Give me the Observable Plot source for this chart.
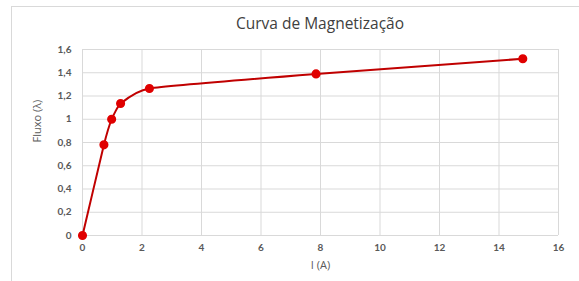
<!DOCTYPE html>
<html>
<head>
<meta charset="utf-8">
<script src="https://cdn.jsdelivr.net/npm/d3@7"></script>
<script src="https://cdn.jsdelivr.net/npm/@observablehq/plot@0.6"></script>
<style>
  html, body { margin: 0; padding: 0; background: #fff; }
  #wrap { position: relative; width: 579px; height: 281px; overflow: hidden; font-family: Lato, "Open Sans", sans-serif; }
  #frame { position: absolute; left: 11px; top: 6px; width: 600px; height: 300px; border-left: 1px solid #d9d9d9; border-top: 1px solid #d9d9d9; }
  #title { position: absolute; left: 82px; width: 476px; top: 12px; text-align: center; font-size: 15.5px; color: #404040; font-family: "Open Sans", Lato, sans-serif; }
  #chart { position: absolute; left: 0; top: 38px; }
</style>
</head>
<body>
<div id="wrap">
  <div id="frame"></div>
  <div id="title">Curva de Magnetização</div>
  <div id="chart"></div>
</div>
<script>
const current = [0, 0.72, 0.98, 1.28, 2.25, 7.85, 14.8];
const flux = [0, 0.78, 1.0, 1.135, 1.265, 1.39, 1.52];
const xTicks = [0, 2, 4, 6, 8, 10, 12, 14, 16];
const yTicks = [0, 0.2, 0.4, 0.6, 0.8, 1, 1.2, 1.4, 1.6];
const xTitle = "I (A)";
const yTitle = "Fluxo (λ)";

const data = current.map((x, i) => ({x, y: flux[i]}));
const fmt = d => String(d).replace(".", ",");

const plot = Plot.plot({
  width: 579,
  height: 243,
  marginTop: 11,
  marginBottom: 46,
  marginLeft: 82,
  marginRight: 21,
  style: {fontFamily: "Lato, 'Open Sans', sans-serif", fontSize: "10px", color: "#404040", background: "transparent"},
  x: {domain: [0, 16], ticks: xTicks, tickFormat: fmt, label: null},
  y: {domain: [0, 1.6], ticks: yTicks, tickFormat: fmt, label: null},
  marks: [
    Plot.gridX(xTicks, {stroke: "#d9d9d9", strokeOpacity: 1, strokeWidth: 1}),
    Plot.gridY(yTicks, {stroke: "#d9d9d9", strokeOpacity: 1, strokeWidth: 1}),
    Plot.axisX({ticks: xTicks, tickFormat: fmt, tickSize: 0, tickPadding: 8, fontWeight: "bold", fill: "#595959"}),
    Plot.axisY({ticks: yTicks, tickFormat: fmt, tickSize: 0, tickPadding: 11, fontWeight: "bold", fill: "#595959"}),
    Plot.text([xTitle], {frameAnchor: "bottom", dy: 33, fontSize: 11, fill: "#595959", fontFamily: "'Open Sans', sans-serif"}),
    Plot.text([yTitle], {frameAnchor: "left", dx: -45, rotate: -90, fontSize: 11, fill: "#595959", fontFamily: "'Open Sans', sans-serif"}),
    Plot.line(data, {x: "x", y: "y", curve: "cardinal", tension: 0.6, stroke: "#c00000", strokeWidth: 2}),
    Plot.dot(data, {x: "x", y: "y", r: 3.8, fill: "#e00000", stroke: "#e00000"})
  ]
});
document.getElementById("chart").appendChild(plot);
</script>
</body>
</html>
